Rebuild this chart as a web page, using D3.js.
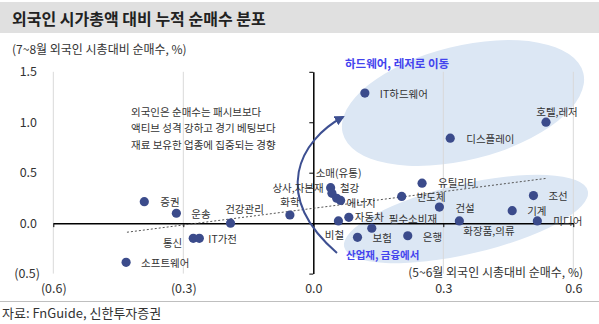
<!DOCTYPE html>
<html><head><meta charset="utf-8">
<script src="https://cdn.jsdelivr.net/npm/d3@7"></script>
<style>
html,body{margin:0;padding:0;background:#fff;}
svg{display:block;font-family:"Noto Sans CJK KR","Noto Sans",sans-serif;}
</style></head>
<body>
<svg id="c" width="599" height="324"></svg>
<script>
// ---- data ----
const categories = ["증권","운송","통신","IT가전","소프트웨어","건강관리","화학","상사,자본재","철강","소매(유통)","에너지","비철","자동차","필수소비재","보험","은행","반도체","유틸리티","건설","화장품,의류","기계","조선","미디어","IT하드웨어","디스플레이","호텔,레저"];
// 5~6월 외국인 시총대비 순매수 (%)
const xValues = [-0.390,-0.316,-0.277,-0.263,-0.432,-0.191,-0.054,0.040,0.043,0.054,0.063,0.058,0.082,0.135,0.102,0.218,0.204,0.251,0.291,0.337,0.459,0.508,0.517,0.119,0.316,0.537];
// 7~8월 외국인 시총대비 순매수 (%)
const yValues = [0.213,0.098,-0.150,-0.150,-0.388,0.000,0.081,0.352,0.296,0.247,0.225,0.022,0.058,-0.050,-0.140,-0.125,0.265,0.396,0.159,0.022,0.124,0.273,0.022,1.289,0.842,1.001];
const xTicks = [-0.6,-0.3,0.0,0.3,0.6];
const yTicks = [-0.5,0.0,0.5,1.0,1.5];
const trendX = [-0.43,0.54];
const trendY = [-0.09,0.445];
const titleText = "외국인 시가총액 대비 누적 순매수 분포";
const yTitle = "(7~8월 외국인 시총대비 순매수, %)";
const xTitle = "(5~6월 외국인 시총대비 순매수, %)";
const noteLines = ["외국인은 순매수는 패시브보다","액티브 성격 강하고 경기 베팅보다","재료 보유한 업종에 집중되는 경향"];
const upperNote = "하드웨어, 레저로 이동";
const lowerNote = "산업재, 금융에서";
const sourceText = "자료: FnGuide, 신한투자증권";

// ---- label layout (dx, dy, anchor) ----
const labelLayout = {
  "증권":[16,0,"start"],"운송":[15,0,"start"],"통신":[-11,4,"end"],"IT가전":[9,0,"start"],
  "소프트웨어":[15,0,"start"],"건강관리":[14,-15,"middle"],"화학":[0,-13,"middle"],
  "상사,자본재":[-7,0,"end"],"철강":[8,-6,"start"],"소매(유통)":[-21,-26,"start"],
  "에너지":[6,2.5,"start"],"비철":[-4,14,"middle"],"자동차":[6,-0.5,"start"],
  "필수소비재":[17,-10,"start"],"보험":[15,0,"start"],"은행":[15,1,"start"],
  "반도체":[15,0,"start"],"유틸리티":[16,-1,"start"],"건설":[16,0,"start"],
  "화장품,의류":[4,10,"start"],"기계":[15,0,"start"],"조선":[15,0,"start"],
  "미디어":[16,0,"start"],"IT하드웨어":[15,0,"start"],"디스플레이":[16,0,"start"],
  "호텔,레저":[11,-11,"middle"]
};

const svg = d3.select("#c");
const x = d3.scaleLinear().domain([-0.6,0.6]).range([53.3,573.3]);
const y = d3.scaleLinear().domain([-0.5,1.5]).range([273.6,71.8]);
const fmt = v => v < 0 ? `(${Math.abs(v).toFixed(1)})` : v.toFixed(1);
const dotColor = "#3b4b8b";
const textColor = "#333";

// title bar
svg.append("rect").attr("x",0).attr("y",2).attr("width",599).attr("height",31).attr("fill","#e0e0e0");
svg.append("text").attr("x",12).attr("y",18).attr("dominant-baseline","central")
  .attr("font-size",16).attr("font-weight",700).attr("fill","#222").text(titleText);

// ellipses (highlight regions)
svg.append("ellipse").attr("cx",463).attr("cy",103).attr("rx",124).attr("ry",57)
  .attr("transform","rotate(-14,463,103)").attr("fill","#dce7f4");
svg.append("ellipse").attr("cx",466).attr("cy",219).attr("rx",125).attr("ry",35)
  .attr("transform","rotate(-13,466,219)").attr("fill","#dce7f4");

// gridlines
svg.append("g").selectAll("line").data(xTicks.filter(t=>t!==0)).join("line")
  .attr("x1",d=>x(d)).attr("x2",d=>x(d)).attr("y1",y(1.5)).attr("y2",y(-0.5))
  .attr("stroke","#d9d9d9").attr("stroke-width",1);

// x axis line at y=0
const gx = svg.append("g").attr("transform",`translate(0,${y(0)})`)
  .call(d3.axisBottom(x).tickValues(xTicks).tickSize(4).tickSizeOuter(0).tickFormat(""));
gx.select(".domain").attr("stroke","#000").attr("stroke-width",1.5);
gx.selectAll(".tick line").attr("stroke","#000");
// x tick labels at bottom
const gxl = svg.append("g").attr("transform",`translate(0,281)`)
  .call(d3.axisBottom(x).tickValues(xTicks).tickSize(0).tickFormat(fmt));
gxl.select(".domain").remove();
gxl.selectAll("text").attr("font-size",12.5).attr("fill",textColor)
  .attr("font-family","'Noto Sans CJK KR','Noto Sans',sans-serif");

// y axis line at x=0
const gy = svg.append("g").attr("transform",`translate(${x(0)},0)`)
  .call(d3.axisLeft(y).tickValues(yTicks).tickSize(4).tickSizeOuter(0).tickFormat(""));
gy.select(".domain").attr("stroke","#000").attr("stroke-width",1.5);
gy.selectAll(".tick line").attr("stroke","#000");
// y tick labels at left
const gyl = svg.append("g").attr("transform",`translate(40,0)`)
  .call(d3.axisLeft(y).tickValues(yTicks).tickSize(0).tickPadding(0).tickFormat(fmt));
gyl.select(".domain").remove();
gyl.selectAll("text").attr("font-size",12.5).attr("fill",textColor)
  .attr("font-family","'Noto Sans CJK KR','Noto Sans',sans-serif")
  .attr("dx",d=>d<0?0:-3);

// trend line
svg.append("line").attr("x1",x(trendX[0])).attr("y1",y(trendY[0]))
  .attr("x2",x(trendX[1])).attr("y2",y(trendY[1]))
  .attr("stroke","#555").attr("stroke-width",1).attr("stroke-dasharray","2,2");

// axis titles
svg.append("text").attr("x",12).attr("y",48).attr("dominant-baseline","central")
  .attr("font-size",12).attr("fill",textColor).text(yTitle);
svg.append("text").attr("x",583).attr("y",271).attr("dominant-baseline","central")
  .attr("text-anchor","end").attr("font-size",12).attr("fill",textColor).text(xTitle);

// annotation
svg.append("g").selectAll("text").data(noteLines).join("text")
  .attr("x",131).attr("y",(d,i)=>111+i*16.7).attr("dominant-baseline","central")
  .attr("font-size",10.5).attr("fill",textColor).text(d=>d);

// curved arrow
const defs = svg.append("defs");
defs.append("marker").attr("id","ah").attr("viewBox","0 0 10 10").attr("refX",8).attr("refY",5)
  .attr("markerWidth",5).attr("markerHeight",5).attr("orient","auto")
  .append("path").attr("d","M0,0L10,5L0,10z").attr("fill","#3d4f91");
const ap = d3.path();
ap.moveTo(337,253); ap.bezierCurveTo(270,195,300,140,343,117);
svg.append("path").attr("d",ap.toString()).attr("fill","none").attr("stroke","#3d4f91")
  .attr("stroke-width",2).attr("marker-end","url(#ah)");

// points
const pts = categories.map((c,i)=>({c, xv:xValues[i], yv:yValues[i]}));
svg.append("g").selectAll("circle").data(pts).join("circle")
  .attr("cx",d=>x(d.xv)).attr("cy",d=>y(d.yv)).attr("r",4.6).attr("fill",dotColor);
svg.append("g").selectAll("text").data(pts).join("text")
  .attr("x",d=>x(d.xv)+labelLayout[d.c][0]).attr("y",d=>y(d.yv)+labelLayout[d.c][1])
  .attr("text-anchor",d=>labelLayout[d.c][2]).attr("dominant-baseline","central")
  .attr("font-size",10.5).attr("fill",textColor).text(d=>d.c);

// blue notes
svg.append("text").attr("x",345).attr("y",63).attr("dominant-baseline","central")
  .attr("font-size",11.5).attr("font-weight",700).attr("fill","#4343ee").text(upperNote);
svg.append("text").attr("x",346).attr("y",254).attr("dominant-baseline","central")
  .attr("font-size",10.5).attr("font-weight",700).attr("fill","#4343ee").text(lowerNote);

// source
svg.append("line").attr("x1",0).attr("x2",599).attr("y1",301.5).attr("y2",301.5)
  .attr("stroke","#bfbfbf").attr("stroke-width",1);
svg.append("text").attr("x",2).attr("y",312).attr("dominant-baseline","central")
  .attr("font-size",13).attr("fill",textColor).text(sourceText);
</script>
</body></html>
